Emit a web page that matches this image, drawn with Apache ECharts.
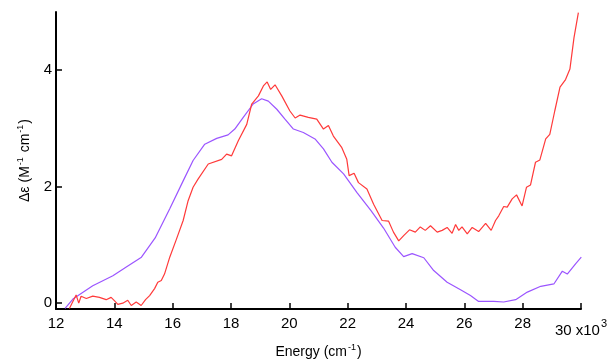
<!DOCTYPE html>
<html>
<head>
<meta charset="utf-8">
<script src="https://cdn.jsdelivr.net/npm/echarts@6/dist/echarts.min.js"></script>
<style>
html,body{margin:0;padding:0;background:#fff;}
#chart{width:613px;height:361px;}
</style>
</head>
<body>
<div id="chart"></div>
<script>
// Energy in units of 10^3 cm^-1, delta-epsilon in M^-1 cm^-1
const xTicks = [12, 14, 16, 18, 20, 22, 24, 26, 28, 30];
const yTicks = [0, 2, 4];

const purpleX = [12.31, 12.58, 13.26, 13.95, 14.41, 14.93, 15.40, 15.90, 16.36, 16.70, 17.10, 17.51, 17.90, 18.13, 18.42, 18.76, 19.05, 19.28, 19.57, 19.85, 20.14, 20.48, 20.88, 21.17, 21.46, 21.86, 22.32, 22.80, 23.23, 23.63, 23.92, 24.21, 24.61, 24.95, 25.41, 25.87, 26.21, 26.49, 27.01, 27.35, 27.76, 28.16, 28.62, 29.07, 29.36, 29.53, 29.82, 30.01];
const purpleY = [-0.09, 0.07, 0.30, 0.47, 0.62, 0.79, 1.12, 1.62, 2.10, 2.45, 2.73, 2.83, 2.89, 2.99, 3.19, 3.42, 3.51, 3.47, 3.33, 3.16, 2.99, 2.93, 2.82, 2.65, 2.42, 2.22, 1.90, 1.59, 1.29, 0.96, 0.80, 0.85, 0.78, 0.56, 0.36, 0.23, 0.13, 0.03, 0.03, 0.02, 0.06, 0.19, 0.29, 0.33, 0.55, 0.50, 0.68, 0.79];

const redX = [12.46, 12.57, 12.69, 12.78, 12.86, 13.04, 13.26, 13.32, 13.49, 13.72, 13.89, 14.01, 14.12, 14.29, 14.46, 14.58, 14.75, 14.92, 15.07, 15.21, 15.38, 15.49, 15.61, 15.72, 15.90, 16.13, 16.36, 16.53, 16.70, 16.87, 17.22, 17.68, 17.85, 18.02, 18.25, 18.54, 18.71, 18.94, 19.11, 19.24, 19.36, 19.51, 19.74, 20.02, 20.20, 20.37, 20.65, 20.94, 21.17, 21.34, 21.51, 21.80, 21.97, 22.05, 22.22, 22.37, 22.66, 22.89, 23.18, 23.40, 23.57, 23.75, 23.92, 24.12, 24.32, 24.49, 24.66, 24.84, 25.07, 25.24, 25.41, 25.58, 25.70, 25.81, 25.92, 26.10, 26.27, 26.49, 26.73, 26.92, 27.07, 27.18, 27.35, 27.47, 27.64, 27.79, 27.98, 28.13, 28.27, 28.44, 28.59, 28.79, 28.93, 29.10, 29.28, 29.47, 29.62, 29.76, 29.91];
const redY = [-0.09, 0.02, 0.14, 0.00, 0.12, 0.08, 0.12, 0.15, 0.10, 0.06, 0.10, 0.04, -0.02, 0.00, 0.05, -0.04, 0.02, -0.04, 0.06, 0.13, 0.25, 0.36, 0.39, 0.50, 0.79, 1.10, 1.42, 1.76, 1.99, 2.13, 2.39, 2.47, 2.56, 2.53, 2.79, 3.07, 3.42, 3.56, 3.73, 3.80, 3.67, 3.75, 3.56, 3.30, 3.18, 3.23, 3.19, 3.16, 2.99, 3.05, 2.87, 2.67, 2.47, 2.19, 2.23, 2.07, 1.96, 1.70, 1.42, 1.41, 1.22, 1.07, 1.16, 1.26, 1.22, 1.31, 1.25, 1.33, 1.22, 1.25, 1.30, 1.20, 1.35, 1.25, 1.31, 1.19, 1.30, 1.23, 1.37, 1.25, 1.42, 1.50, 1.66, 1.65, 1.79, 1.86, 1.67, 1.99, 2.03, 2.42, 2.46, 2.82, 2.90, 3.30, 3.71, 3.84, 4.02, 4.56, 4.99];

const zip = (xs, ys) => xs.map((x, i) => [x, ys[i]]);
const FONT = '"Liberation Sans", Arial, sans-serif';
const titleRich = {
  n: {fontFamily: FONT, fontSize: 14, color: '#000', verticalAlign: 'bottom'},
  sup: {fontFamily: FONT, fontSize: 9, color: '#000', verticalAlign: 'bottom', padding: [0, 1, 7, 1]}
};

const chart = echarts.init(document.getElementById('chart'), null, {renderer: 'canvas'});
chart.setOption({
  animation: false,
  backgroundColor: '#ffffff',
  grid: {left: 56, right: 32, top: 12, bottom: 52, containLabel: false, outerBoundsMode: 'none'},
  xAxis: {
    type: 'value', min: 12, max: 30, interval: 2,
    name: '{n|Energy (cm}{sup|-1}{n|)}', nameLocation: 'middle', nameGap: 34,
    nameTextStyle: {fontFamily: FONT, fontSize: 14, color: '#000', rich: titleRich},
    axisLine: {show: true, onZero: false, lineStyle: {color: '#000', width: 2}},
    axisTick: {show: true, inside: true, length: 6, customValues: xTicks, lineStyle: {color: '#000', width: 1.5}},
    axisLabel: {
      customValues: xTicks,
      fontFamily: FONT, fontSize: 15, color: '#000', margin: 7,
      formatter: v => v === 30 ? '{b|30 x10}{s|3}' : String(v),
      rich: {
        b: {fontFamily: FONT, fontSize: 15, color: '#000', verticalAlign: 'bottom', padding: [7, 0, 0, 0]},
        s: {fontFamily: FONT, fontSize: 11, color: '#000', verticalAlign: 'top', padding: [2, 0, 0, 1]}
      }
    },
    splitLine: {show: false}
  },
  yAxis: {
    type: 'value', min: -0.1, max: 5,
    name: '{n|\u0394\u03B5 (M}{sup|-1}{n| cm}{sup|-1}{n|)}', nameLocation: 'middle', nameGap: 24, nameRotate: 90,
    nameTextStyle: {fontFamily: FONT, fontSize: 14, color: '#000', rich: titleRich},
    axisLine: {show: true, onZero: false, lineStyle: {color: '#000', width: 2}},
    axisTick: {show: true, inside: true, length: 6, customValues: yTicks, lineStyle: {color: '#000', width: 1.5}},
    axisLabel: {customValues: yTicks, fontFamily: FONT, fontSize: 15, color: '#000', margin: 4},
    splitLine: {show: false}
  },
  series: [
    {
      type: 'line', data: zip(purpleX, purpleY), showSymbol: false, symbol: 'none', clip: false,
      lineStyle: {color: '#9b55ff', width: 1.2}
    },
    {
      type: 'line', data: zip(redX, redY), showSymbol: false, symbol: 'none', clip: false,
      lineStyle: {color: '#ff3a3a', width: 1.2}
    }
  ]
});
</script>
</body>
</html>
